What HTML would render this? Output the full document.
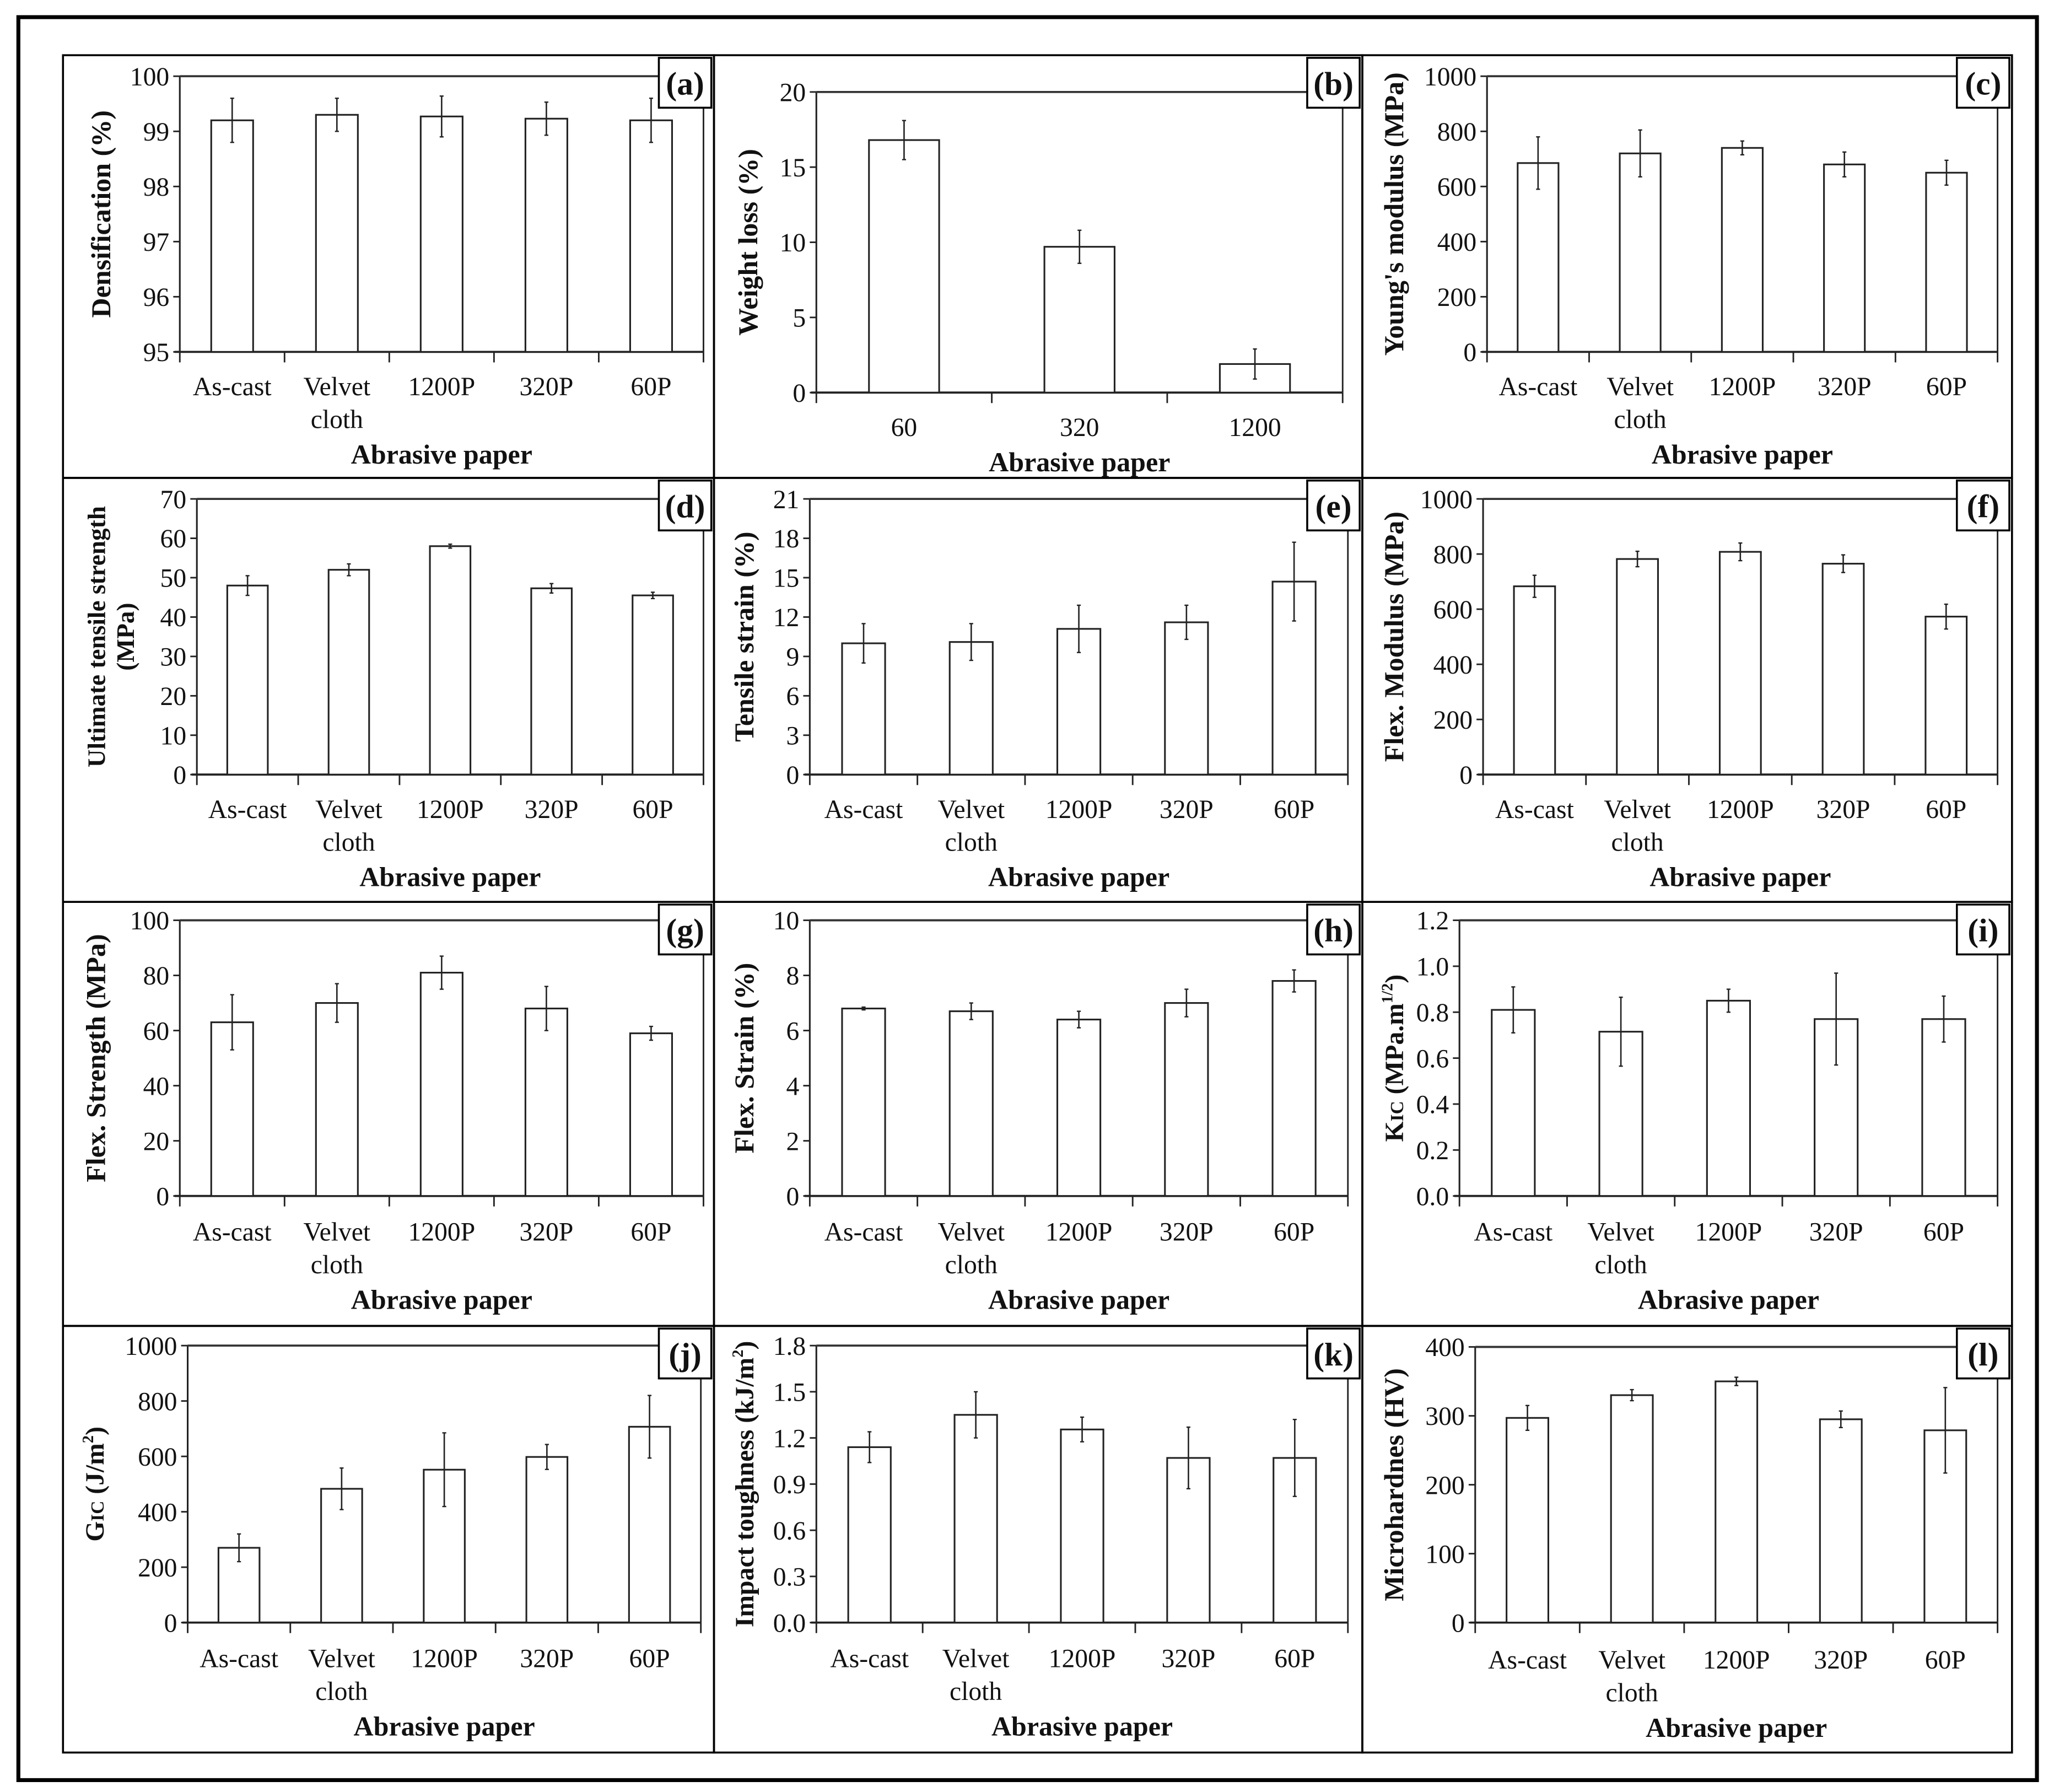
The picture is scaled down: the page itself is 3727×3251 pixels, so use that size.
<!DOCTYPE html>
<html><head><meta charset="utf-8"><style>
html,body{margin:0;padding:0;background:#fff}
svg{display:block}
text{font-family:"Liberation Serif",serif;fill:#111}
</style></head><body>
<svg id="fig" width="3727" height="3251" viewBox="0 0 1565 1365" xmlns="http://www.w3.org/2000/svg">
<rect x="14" y="13" width="1538" height="1343" fill="none" stroke="#000" stroke-width="3"/>
</svg>
<script>
const cats5 = ["As-cast","Velvet|cloth","1200P","320P","60P"];
const catsB = ["60","320","1200"];
const valsA = [99.2,99.3,99.27,99.23,99.2];   const errA=[0.4,0.3,0.37,0.3,0.4];
const valsB = [16.8,9.7,1.9];                 const errB=[1.3,1.1,1.0];
const valsC = [685,720,740,680,650];          const errC=[95,85,25,45,45];
const valsD = [48,52,58,47.3,45.5];           const errD=[2.5,1.5,0.5,1.2,0.8];
const valsE = [10,10.1,11.1,11.6,14.7];       const errE=[1.5,1.4,1.8,1.3,3];
const valsF = [683,782,808,765,573];          const errF=[40,28,32,32,45];
const valsG = [63,70,81,68,59];               const errG=[10,7,6,8,2.5];
const valsH = [6.8,6.7,6.4,7.0,7.8];          const errH=[0.05,0.3,0.3,0.5,0.4];
const valsI = [0.81,0.715,0.85,0.77,0.77];    const errI=[0.1,0.15,0.05,0.2,0.1];
const valsJ = [270,483,552,598,707];          const errJ=[50,75,133,45,113];
const valsK = [1.14,1.35,1.255,1.07,1.07];    const errK=[0.1,0.15,0.08,0.2,0.25];
const valsL = [297,330,350,295,279];          const errL=[18,8,6,12,62];
const ticksA=[95,96,97,98,99,100];
const ticksB=[0,5,10,15,20];
const ticksC=[0,200,400,600,800,1000];
const ticksD=[0,10,20,30,40,50,60,70];
const ticksE=[0,3,6,9,12,15,18,21];
const ticksF=[0,200,400,600,800,1000];
const ticksG=[0,20,40,60,80,100];
const ticksH=[0,2,4,6,8,10];
const ticksI=[0,0.2,0.4,0.6,0.8,1.0,1.2];
const ticksJ=[0,200,400,600,800,1000];
const ticksK=[0,0.3,0.6,0.9,1.2,1.5,1.8];
const ticksL=[0,100,200,300,400];

const NS="http://www.w3.org/2000/svg";
const svg=document.getElementById('fig');
function mk(tag,attrs,parent,txt){const e=document.createElementNS(NS,tag);for(const k in attrs)e.setAttribute(k,attrs[k]);if(txt!==undefined)e.textContent=txt;(parent||svg).appendChild(e);return e;}

const panels=[
 {id:'a',box:[48,42,496,322],px:[137,536],py:[58,268],cats:cats5,v:valsA,e:errA,t:ticksA,dec:0,yt:['Densification (%)'],ytx:77,lab:294,xt:346},
 {id:'b',box:[544,42,494,322],px:[622,1023],py:[70,299],cats:catsB,v:valsB,e:errB,t:ticksB,dec:0,yt:['Weight loss (%)'],ytx:570,lab:325,xt:352},
 {id:'c',box:[1038,42,495,322],px:[1133,1522],py:[58,268],cats:cats5,v:valsC,e:errC,t:ticksC,dec:0,yt:["Young's modulus (MPa)"],ytx:1062,lab:294,xt:346},
 {id:'d',box:[48,364,496,323],px:[150,536],py:[380,590],cats:cats5,v:valsD,e:errD,t:ticksD,dec:0,yt:['Ultimate tensile strength','(MPa)'],ytx:73,lab:616,xt:668},
 {id:'e',box:[544,364,494,323],px:[617,1027],py:[380,590],cats:cats5,v:valsE,e:errE,t:ticksE,dec:0,yt:['Tensile strain (%)'],ytx:567,lab:616,xt:668},
 {id:'f',box:[1038,364,495,323],px:[1130,1522],py:[380,590],cats:cats5,v:valsF,e:errF,t:ticksF,dec:0,yt:['Flex. Modulus (MPa)'],ytx:1062,lab:616,xt:668},
 {id:'g',box:[48,687,496,323],px:[137,536],py:[701,911],cats:cats5,v:valsG,e:errG,t:ticksG,dec:0,yt:['Flex. Strength (MPa)'],ytx:73,lab:938,xt:990},
 {id:'h',box:[544,687,494,323],px:[617,1027],py:[701,911],cats:cats5,v:valsH,e:errH,t:ticksH,dec:0,yt:['Flex. Strain (%)'],ytx:567,lab:938,xt:990},
 {id:'i',box:[1038,687,495,323],px:[1112,1522],py:[701,911],cats:cats5,v:valsI,e:errI,t:ticksI,dec:1,yt:['KIC'],ytx:1062,lab:938,xt:990},
 {id:'j',box:[48,1010,496,325],px:[143,534],py:[1025,1236],cats:cats5,v:valsJ,e:errJ,t:ticksJ,dec:0,yt:['GIC'],ytx:72,lab:1263,xt:1315},
 {id:'k',box:[544,1010,494,325],px:[622,1027],py:[1025,1236],cats:cats5,v:valsK,e:errK,t:ticksK,dec:1,yt:['Impact toughness'],ytx:567,lab:1263,xt:1315},
 {id:'l',box:[1038,1010,495,325],px:[1124,1522],py:[1026,1236],cats:cats5,v:valsL,e:errL,t:ticksL,dec:0,yt:['Microhardnes (HV)'],ytx:1062,lab:1264,xt:1316}
];

panels.forEach(p=>{
  const g=mk('g',{});
  
  
  const [bx,by,bw,bh]=p.box;
  mk('rect',{x:bx,y:by,width:bw,height:bh,fill:'none',stroke:'#000','stroke-width':1.5},g);
  const [x0,x1]=p.px,[yTop,yBot]=p.py;
  const tmin=p.t[0],tmax=p.t[p.t.length-1];
  const Y=v=>yBot-(v-tmin)/(tmax-tmin)*(yBot-yTop);
  const n=p.cats.length,cw=(x1-x0)/n;
  const X=i=>x0+cw*(i+0.5);
  const lbx=bx+bw-42,lby=by+2;
  // axes
  const ax=mk('g',{},g);
  
  
  mk('line',{x1:x0,y1:yTop,x2:x0,y2:yBot,stroke:'#222','stroke-width':1.3},ax);
  mk('line',{x1:x0,y1:yTop,x2:Math.min(x1,lbx),y2:yTop,stroke:'#333','stroke-width':1.6},ax);
  mk('line',{x1:x1,y1:Math.max(yTop,lby+38),x2:x1,y2:yBot,stroke:'#222','stroke-width':1.2},ax);
  mk('line',{x1:x0-4,y1:yBot,x2:x1,y2:yBot,stroke:'#222','stroke-width':1.6},ax);
  p.t.forEach(t=>{
    const y=Y(t);
    mk('line',{x1:x0-5,y1:y,x2:x0,y2:y,stroke:'#222','stroke-width':1.2},ax);
    const tx=mk('text',{x:x0-8,y:y+7,'text-anchor':'end','font-size':20},ax,t.toFixed(p.dec));
    
    
  });
  for(let i=0;i<=n;i++){const x=x0+cw*i;mk('line',{x1:x,y1:yBot,x2:x,y2:yBot+8,stroke:'#222','stroke-width':1.2},ax);}
  // bars
  const bwid=cw*0.4;
  p.v.forEach((v,i)=>{
    const r=mk('rect',{x:X(i)-bwid/2,y:Y(v),width:bwid,height:yBot-Y(v),fill:'#fff',stroke:'#222','stroke-width':1.3},g);
    
    
    const eb=mk('line',{x1:X(i),y1:Y(v+p.e[i]),x2:X(i),y2:Y(v-p.e[i]),stroke:'#222','stroke-width':1.1},g);
    
    
    mk('line',{x1:X(i)-1.5,y1:Y(v+p.e[i]),x2:X(i)+1.5,y2:Y(v+p.e[i]),stroke:'#222','stroke-width':1},g);
    mk('line',{x1:X(i)-1.5,y1:Y(v-p.e[i]),x2:X(i)+1.5,y2:Y(v-p.e[i]),stroke:'#222','stroke-width':1},g);
  });
  // category labels
  p.cats.forEach((c,i)=>{
    c.split('|').forEach((ln,k)=>{
      const t=mk('text',{x:X(i),y:p.lab+7+k*25,'text-anchor':'middle','font-size':20},g,ln);
      
      
    });
  });
  const xt=mk('text',{x:(x0+x1)/2,y:p.xt+7,'text-anchor':'middle','font-size':21,'font-weight':'bold'},g,'Abrasive paper');
  
  
  // y title
  const cy=(yTop+yBot)/2;
  const yg=mk('g',{transform:`translate(${p.ytx},${cy}) rotate(-90)`},g);
  
  
  if(p.id==='i'){
    const t=mk('text',{x:0,y:7,'text-anchor':'middle','font-size':20,'font-weight':'bold'},yg);
    mk('tspan',{},t,'K');mk('tspan',{'font-size':14},t,'IC');mk('tspan',{},t,' (MPa.m');mk('tspan',{'font-size':12,dy:-8},t,'1/2');mk('tspan',{dy:8},t,')');
  } else if(p.id==='j'){
    const t=mk('text',{x:0,y:7,'text-anchor':'middle','font-size':20,'font-weight':'bold'},yg);
    mk('tspan',{},t,'G');mk('tspan',{'font-size':14},t,'IC');mk('tspan',{},t,' (J/m');mk('tspan',{'font-size':12,dy:-8},t,'2');mk('tspan',{dy:8},t,')');
  } else if(p.id==='k'){
    const t=mk('text',{x:0,y:7,'text-anchor':'middle','font-size':20,'font-weight':'bold'},yg);
    mk('tspan',{},t,'Impact toughness (kJ/m');mk('tspan',{'font-size':12,dy:-8},t,'2');mk('tspan',{dy:8},t,')');
  } else {
    p.yt.forEach((ln,k)=>{
      mk('text',{x:0,y:7+k*22,'text-anchor':'middle','font-size':p.yt.length>1?19:21,'font-weight':'bold'},yg,ln);
    });
  }
  // panel label box
  const lg=mk('g',{},g);
  
  
  mk('rect',{x:lbx,y:lby,width:40,height:38,fill:'#fff',stroke:'#000','stroke-width':1.5},lg);
  mk('text',{x:lbx+20,y:lby+28,'text-anchor':'middle','font-size':25,'font-weight':'bold'},lg,'('+p.id+')');
});
</script>
</body></html>
